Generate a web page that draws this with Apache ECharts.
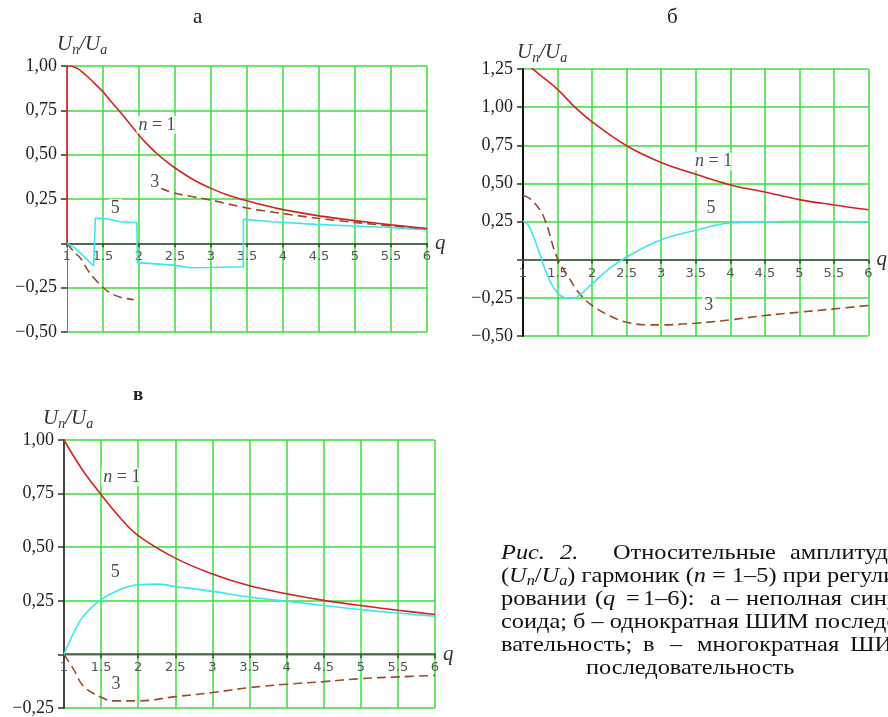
<!DOCTYPE html>
<html><head><meta charset="utf-8">
<script src="https://cdn.jsdelivr.net/npm/echarts@6/dist/echarts.min.js"></script>
<style>html,body{margin:0;padding:0;background:#fff}#c{width:888px;height:717px}</style>
</head><body><div id="c"></div>
<script>
// ---------- DATA ----------
// Panel а (неполная синусоида)
const qA1 = [1, 1, 1.05, 1.1, 1.15, 1.2, 1.3, 1.4, 1.5, 1.6, 1.75, 1.9, 2, 2.1, 2.25, 2.4, 2.5, 2.75, 3, 3.25, 3.5, 3.75, 4, 4.5, 5, 5.5, 6];
const uA1 = [0, 1.0, 1.0, 0.995, 0.985, 0.97, 0.935, 0.895, 0.855, 0.805, 0.735, 0.66, 0.61, 0.565, 0.505, 0.455, 0.425, 0.36, 0.31, 0.27, 0.24, 0.213, 0.19, 0.155, 0.128, 0.104, 0.083];
const qA3a = [1, 1.09, 1.19, 1.32, 1.49, 1.6, 1.75, 1.93];
const uA3a = [0, -0.045, -0.085, -0.17, -0.245, -0.28, -0.305, -0.318];
const qA3b = [2.3, 2.5, 3, 3.5, 4, 4.5, 5, 5.5, 6];
const uA3b = [0.31, 0.282, 0.244, 0.199, 0.168, 0.14, 0.118, 0.098, 0.08];
const qA5 = [1, 1.09, 1.23, 1.37, 1.394, 1.394, 1.52, 1.74, 1.97, 1.98, 1.98, 2.48, 2.72, 3.0, 3.45, 3.45, 3.86, 4.46, 4.97, 5.48, 6];
const uA5 = [0, -0.02, -0.072, -0.128, -0.13, 0.141, 0.141, 0.122, 0.116, 0.116, -0.109, -0.123, -0.138, -0.136, -0.132, 0.135, 0.122, 0.107, 0.098, 0.089, 0.075];
// Panel б (однократная ШИМ)
const qB1 = [1, 1.13, 1.25, 1.5, 1.75, 2, 2.5, 3, 3.5, 4, 4.5, 5, 5.5, 6];
const uB1 = [1.30, 1.254, 1.21, 1.117, 1.0, 0.904, 0.747, 0.637, 0.56, 0.49, 0.444, 0.394, 0.359, 0.328];
const qB3 = [1, 1.13, 1.3, 1.49, 1.66, 1.82, 2, 2.25, 2.5, 2.83, 3, 3.5, 4, 4.5, 5, 5.5, 6];
const uB3 = [0.423, 0.39, 0.28, 0.018, -0.114, -0.223, -0.30, -0.366, -0.41, -0.427, -0.427, -0.416, -0.394, -0.366, -0.344, -0.322, -0.30];
const qB5 = [1, 1.08, 1.225, 1.345, 1.49, 1.66, 1.78, 2, 2.25, 2.5, 3, 3.5, 4, 4.5, 5, 6];
const uB5 = [0.254, 0.225, 0.061, -0.092, -0.212, -0.256, -0.245, -0.158, -0.059, 0.018, 0.131, 0.193, 0.241, 0.247, 0.252, 0.247];
// Panel в (многократная ШИМ)
const qV1 = [1, 1.25, 1.5, 1.75, 2, 2.5, 3, 3.5, 4, 4.5, 5, 5.5, 6];
const uV1 = [1.0, 0.86, 0.745, 0.64, 0.554, 0.449, 0.375, 0.32, 0.283, 0.252, 0.228, 0.206, 0.186];
const qV3 = [1, 1.13, 1.26, 1.5, 1.66, 2, 2.5, 3, 3.5, 4, 4.5, 5, 5.5, 6];
const uV3 = [0, -0.07, -0.147, -0.20, -0.217, -0.217, -0.197, -0.178, -0.155, -0.139, -0.127, -0.113, -0.105, -0.098];
const qV5 = [1, 1.13, 1.26, 1.5, 1.75, 2, 2.25, 2.5, 3, 3.5, 4, 4.5, 5, 5.5, 6];
const uV5 = [0, 0.10, 0.178, 0.255, 0.302, 0.325, 0.328, 0.317, 0.294, 0.268, 0.248, 0.228, 0.209, 0.193, 0.178];
// Curve labels: [q, value, text]
const labelsA = [[2.25, 0.668, 'n1'], [2.22, 0.346, '3'], [1.67, 0.20, '5']];
const labelsB = [[3.76, 0.644, 'n1'], [3.72, 0.336, '5'], [3.69, -0.30, '3']];
const labelsV = [[1.78, 0.828, 'n1'], [1.69, 0.381, '5'], [1.70, -0.139, '3']];
// Axis ranges
const yRangeA = [-0.5, 1.0], yRangeB = [-0.5, 1.25], yRangeV = [-0.25, 1.0];
const xRange = [1, 6];
const panelTitles = ['а', 'б', 'в'];

// ---------- STYLE ----------
const SERIF = 'Liberation Serif';
const GREEN = '#38e038';
const RED = '#d42323';
const CYAN = '#3fe6ea';
const BROWN = '#9a4a25';
const zip = (a, b) => a.map((v, i) => [v, b[i]]);
const grids = [
  { left: 67, top: 66, width: 360, height: 266 },
  { left: 523, top: 69, width: 348, height: 267 },
  { left: 64, top: 440, width: 371, height: 269 }
];
const yRanges = [yRangeA, yRangeB, yRangeV];

function yFmt(v) {
  if (Math.abs(v) < 1e-9) return '';
  const s = Math.abs(v).toFixed(2).replace('.', ',');
  return v < 0 ? '\u2212' + s : s;
}
const axisName = '{u|U}{s|n}{u|/U}{s|a}';
const nameRich = {
  u: { fontFamily: SERIF, fontStyle: 'italic', fontSize: 21, lineHeight: 26, color: '#333', verticalAlign: 'middle' },
  s: { fontFamily: SERIF, fontStyle: 'italic', fontSize: 14, lineHeight: 16, color: '#333', verticalAlign: 'bottom' }
};

function xAxis(gi) {
  const r = yRanges[gi];
  const off = -grids[gi].height * (0 - r[0]) / (r[1] - r[0]);
  return {
    type: 'value', gridIndex: gi, min: xRange[0], max: xRange[1], interval: 0.5,
    position: 'bottom', offset: off,
    axisLine: { onZero: false, lineStyle: { color: '#444', width: 1.5 } },
    axisTick: { show: true, length: 4, lineStyle: { color: '#444', width: 1.5 } },
    axisLabel: { formatter: v => String(v), fontFamily: 'DejaVu Sans', fontSize: 13, color: '#555', margin: 7 },
    splitLine: { show: true, showMinLine: false, lineStyle: { color: GREEN, width: 1.5 } },
    name: 'q', nameLocation: 'end', nameGap: 6,
    nameTextStyle: { fontFamily: SERIF, fontStyle: 'italic', fontSize: 21, color: '#333', verticalAlign: 'middle', padding: [0, 0, 16, 0] }
  };
}
function yAxis(gi, axisColor, axisWidth, namePad, nameGap) {
  const r = yRanges[gi];
  return {
    type: 'value', gridIndex: gi, min: r[0], max: r[1], interval: 0.25,
    axisLine: { show: true, onZero: false, lineStyle: { color: axisColor, width: axisWidth } },
    axisTick: { show: true, length: 6, lineStyle: { color: '#333', width: 1.5 } },
    axisLabel: { formatter: yFmt, fontFamily: SERIF, fontSize: 18, color: '#222', margin: 10, padding: [0, 0, 4, 0] },
    splitLine: { show: true, lineStyle: { color: GREEN, width: 1.5 } },
    name: axisName, nameLocation: 'end', nameGap: nameGap,
    nameTextStyle: { align: 'left', padding: [0, 0, 0, namePad], rich: nameRich }
  };
}
function curve(gi, q, u, color, dashed, smooth) {
  return {
    type: 'line', xAxisIndex: gi, yAxisIndex: gi, data: zip(q, u), showSymbol: false, symbol: 'none',
    smooth: smooth, clip: true,
    lineStyle: { color: color, width: 1.6, type: dashed ? [9, 5] : 'solid' }, z: 5
  };
}
function labelSeries(gi, arr) {
  return {
    type: 'scatter', xAxisIndex: gi, yAxisIndex: gi, symbolSize: 0, z: 6,
    data: arr.map(d => ({ value: [d[0], d[1]], name: d[2] })),
    label: {
      show: true, position: 'inside',
      formatter: p => p.name === 'n1' ? '{i|n} = 1' : p.name,
      fontFamily: SERIF, fontSize: 18, color: '#222', backgroundColor: '#fff', padding: [0, 2],
      rich: { i: { fontFamily: SERIF, fontStyle: 'italic', fontSize: 18, color: '#222', backgroundColor: '#fff' } }
    }
  };
}

const F = '21px "Liberation Serif"';
const FI = 'italic 21px "Liberation Serif"';
const SX = 1.16;
const capRich = {
  s: { fontFamily: SERIF, fontStyle: 'italic', fontSize: 14, verticalAlign: 'bottom', lineHeight: 14 },
  i: { fontFamily: SERIF, fontStyle: 'italic', fontSize: 21, lineHeight: 24, verticalAlign: 'middle' },
  t: { fontFamily: SERIF, fontSize: 21, lineHeight: 24, verticalAlign: 'middle' }
};
function cap(x, y, text, font) {
  return { type: 'text', x: x, y: y, scaleX: SX, z: 10,
    style: { text: text, font: font || F, fill: '#111', verticalAlign: 'middle', align: 'left', rich: capRich } };
}

const option = {
  backgroundColor: '#fff',
  animation: false,
  grid: grids,
  xAxis: [xAxis(0), xAxis(1), xAxis(2)],
  yAxis: [
    yAxis(0, '#777', 1, -10, 2),
    yAxis(1, '#111', 2, -6, 4),
    yAxis(2, '#444', 2, -21, 2)
  ],
  series: [
    curve(0, qA3a, uA3a, BROWN, true, 0.3),
    curve(0, qA3b, uA3b, BROWN, true, 0.3),
    curve(0, qA5, uA5, CYAN, false, false),
    curve(0, qA1, uA1, RED, false, 0.25),
    curve(1, qB3, uB3, BROWN, true, 0.4),
    curve(1, qB5, uB5, CYAN, false, 0.4),
    curve(1, qB1, uB1, RED, false, 0.4),
    curve(2, qV3, uV3, BROWN, true, 0.4),
    curve(2, qV5, uV5, CYAN, false, 0.4),
    curve(2, qV1, uV1, RED, false, 0.4),
    labelSeries(0, labelsA), labelSeries(1, labelsB), labelSeries(2, labelsV)
  ],
  graphic: [
    { type: 'text', left: 193, top: 7, style: { text: panelTitles[0], font: '21px "Liberation Serif"', fill: '#222' } },
    { type: 'text', left: 667, top: 7, style: { text: panelTitles[1], font: '21px "Liberation Serif"', fill: '#222' } },
    { type: 'text', left: 133, top: 386, style: { text: panelTitles[2], font: 'bold 19px "Liberation Serif"', fill: '#222' } },
    // caption
    cap(501, 553, 'Рис.', FI),
    cap(560, 553, '2.', FI),
    cap(613, 553, 'Относительные'),
    cap(790, 553, 'амплитуды'),
    cap(501, 576, '{t|(}{i|U}{s|n}{t|/}{i|U}{s|a}{t|) гармоник (}{i|n}{t| = 1–5) при регули-}'),
    cap(501, 599, 'ровании'),
    cap(595, 599, '({i|q}'),
    cap(626, 599, '='),
    cap(643, 599, '1–6):'),
    cap(710, 599, 'а'),
    cap(726, 599, '–'),
    cap(746, 599, 'неполная'),
    cap(850, 599, 'сину-'),
    cap(501, 622, 'соида; б – однократная ШИМ последо-'),
    cap(501, 645, 'вательность;'),
    cap(643, 645, 'в'),
    cap(670, 645, '–'),
    cap(697, 645, 'многократная'),
    cap(850, 645, 'ШИМ'),
    cap(586, 668, 'последовательность')
  ]
};
const chart = echarts.init(document.getElementById('c'), null, { renderer: 'canvas' });
chart.setOption(option);
</script>
</body></html>
